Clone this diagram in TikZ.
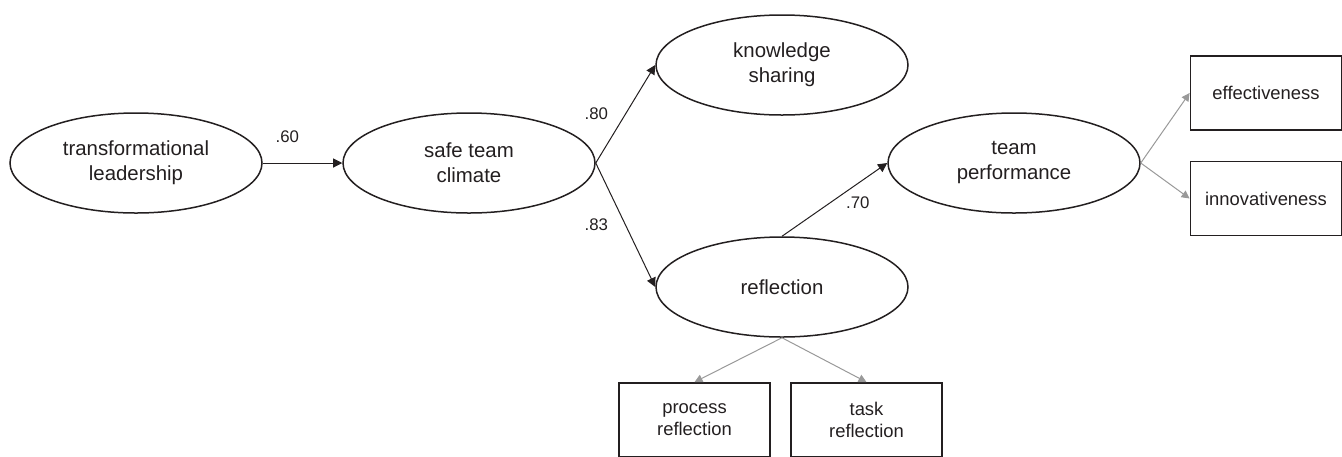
\documentclass[tikz,border=0pt]{standalone}
\usepackage{fontspec}
\setmainfont{Liberation Sans}
\usetikzlibrary{arrows.meta,shapes.geometric}
\definecolor{ink}{HTML}{231F20}
\definecolor{loadgray}{HTML}{999999}
\tikzset{
  causal/.style={-{Triangle[length=4.6pt,width=4.6pt]},line width=0.5pt,ink},
  loading/.style={-{Triangle[length=4pt,width=4pt]},line width=0.5pt,loadgray},
  latent/.style={ellipse,draw=ink,line width=0.75pt,minimum width=126pt,minimum height=50pt,
    inner sep=0pt,align=center,text=ink,font=\fontsize{10.2}{12.5}\selectfont},
  indicator/.style={rectangle,draw=ink,line width=0.9pt,minimum width=75.5pt,minimum height=37pt,
    inner sep=0pt,align=center,text=ink,font=\fontsize{9.2}{11}\selectfont},
  coef/.style={font=\fontsize{8.4}{10}\selectfont,text=ink,inner sep=0pt}
}

\begin{document}
\begin{tikzpicture}[x=0.5pt,y=-0.5pt]
\useasboundingbox (0,0) rectangle (1342,456);
% latent variables
\node[latent] (tl) at (136,163) {transformational\\leadership};
\node[latent] (stc) at (469,163) {safe team\\climate};
\node[latent] (ks) at (782,65) {knowledge\\sharing};
\node[latent] (refl) at (782,287) {reflection};
\node[latent] (tp) at (1014,163) {team\\performance};
% indicators
\node[indicator] (eff) at (1266,93) {effectiveness};
\node[indicator] (inn) at (1266,198.5) {innovativeness};
\node[indicator] (proc) at (694.5,420) {process\\reflection};
\node[indicator] (task) at (866.5,420) {task\\reflection};
% structural paths
\draw[causal] (tl.east)--node[coef,pos=0.31,above=10pt] {.60} (stc.west);
\draw[causal] (stc.east)--node[coef,midway,left=8.5pt] {.80} (ks.west);
\draw[causal] (stc.east)--node[coef,midway,left=8.5pt] {.83} (refl.west);
\draw[causal] (refl.north)--node[coef,midway,anchor=west,xshift=5.5pt,yshift=-1.5pt] {.70} (tp.west);
% measurement paths
\draw[loading] (tp.east)--(eff.west);
\draw[loading] (tp.east)--(inn.west);
\draw[loading] (refl.south)--(proc.north);
\draw[loading] (refl.south)--(task.north);
\end{tikzpicture}
\end{document}
